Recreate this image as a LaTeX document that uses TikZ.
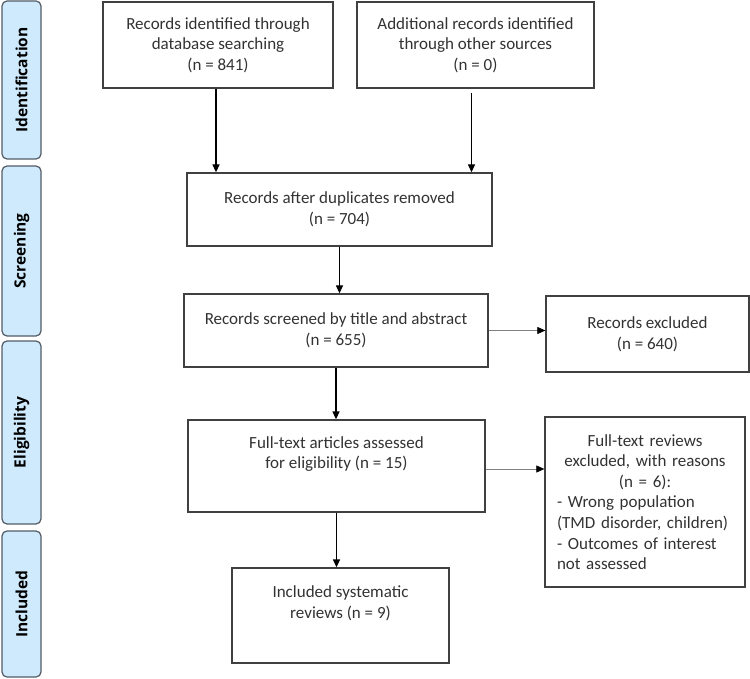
\documentclass[tikz,border=0pt]{standalone}
\usepackage{fontspec}
\setmainfont{Carlito}
\newfontfamily\tabfont{Open Sans}
\usetikzlibrary{arrows.meta,positioning}
\definecolor{phaseblue}{RGB}{206,234,252}
\definecolor{phaseedge}{RGB}{84,92,102}
\definecolor{boxedge}{RGB}{64,64,64}
\definecolor{boxtext}{RGB}{50,50,50}
\tikzset{
  flowbox/.style={draw=boxedge, line width=1.3pt, align=center, text=boxtext,
    font=\fontsize{17}{20.6}\selectfont, inner sep=3pt},
  phasetab/.style={draw=phaseedge, line width=1.2pt, fill=phaseblue,
    rounded corners=5pt, rotate=90, minimum height=39pt, inner sep=0pt,
    font=\tabfont\fontsize{15.5}{19}\selectfont\bfseries},
  flowarrow/.style={-{Triangle[length=8pt,width=7pt]}, line width=1.3pt},
  sidearrow/.style={-{Triangle[length=8pt,width=7pt,color=black,fill=black]},
    line width=0.6pt, draw=gray}
}

\begin{document}
\begin{tikzpicture}[x=1pt, y=-1pt]
  \useasboundingbox (0,0) rectangle (750,679);
  % phase tabs on the left
  \node[phasetab, minimum width=158pt] (tabid) at (21.5,80) {Identification};
  \node[phasetab, minimum width=170pt] (tabscr) at (21.5,251) {Screening};
  \node[phasetab, minimum width=183pt] (tabelig) at (21.5,432.5) {Eligibility};
  \node[phasetab, minimum width=146pt] (tabincl) at (21.5,604) {Included};

  % flow boxes
  \node[flowbox, minimum width=230pt, minimum height=86pt] (dbsearch) at (218,45)
    {Records identified through\\database searching\\(n = 841)};
  \node[flowbox, minimum width=237pt, minimum height=86pt] (othersrc) at (475.5,45)
    {Additional records identified\\through other sources\\(n = 0)};
  \node[flowbox, minimum width=305pt, minimum height=73pt] (dedup) at (339.5,209.5)
    {Records after duplicates removed\\(n = 704)};
  \node[flowbox, minimum width=304pt, minimum height=73pt] (screened) at (336,330.5)
    {Records screened by title and abstract\\(n = 655)};
  \node[flowbox, minimum width=203pt, minimum height=76pt] (excluded) at (647.5,334)
    {Records excluded\\(n = 640)};
  \node[flowbox, minimum width=297pt, minimum height=92pt] (fulltext) at (336.5,466)
    {Full-text articles assessed\\for eligibility (n = 15)\\ \strut};
  \node[flowbox, align=left, text width=176pt, inner xsep=12pt, minimum height=170pt]
    (ftexcl) at (645,502)
    {{\centering Full-text reviews\\excluded, with reasons\\(n = 6):\par}
     - Wrong population\\(TMD disorder, children)\\- Outcomes of interest\\not assessed};
  \node[flowbox, minimum width=217pt, minimum height=95pt] (included) at (340.5,615.5)
    {Included systematic\\reviews (n = 9)\\ \strut};

  % connectors
  \draw[flowarrow] ([xshift=-2pt]dbsearch.south) -- ([xshift=-2pt]dbsearch.south |- dedup.north);
  \draw[flowarrow] ([xshift=-4pt,yshift=-4pt]othersrc.south) -- ([xshift=-4pt]othersrc.south |- dedup.north);
  \draw[flowarrow] (dedup.south) -- (dedup.south |- screened.north);
  \draw[flowarrow] (screened.south) -- (screened.south |- fulltext.north);
  \draw[flowarrow] (fulltext.south) -- (fulltext.south |- included.north);
  \draw[sidearrow] (screened.east) -- (screened.east -| excluded.west);
  \draw[sidearrow] ([yshift=-3pt]fulltext.east) -- ([yshift=-3pt]fulltext.east -| ftexcl.west);
\end{tikzpicture}
\end{document}
